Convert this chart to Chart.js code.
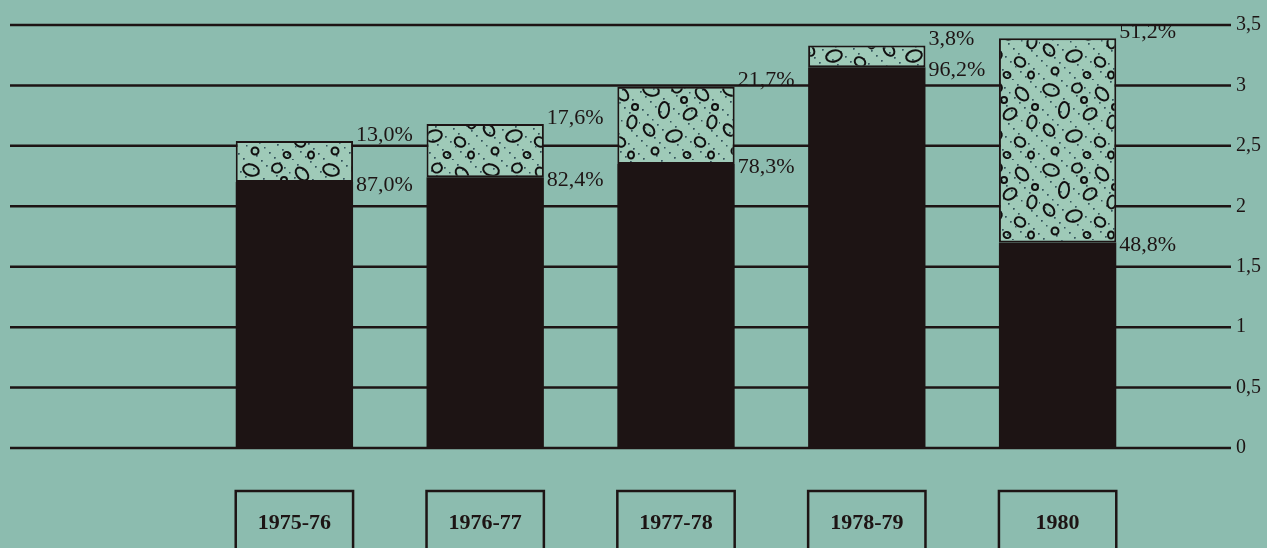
<!DOCTYPE html>
<html>
<head>
<meta charset="utf-8">
<script src="https://cdn.jsdelivr.net/npm/chart.js@4/dist/chart.umd.min.js"></script>
<style>
  body { margin: 0; background: #8cbcaf; }
  canvas { display: block; }
</style>
</head>
<body>
<canvas id="chart" width="1267" height="548"></canvas>
<script>
// data
const years = ['1975-76', '1976-77', '1977-78', '1978-79', '1980'];
const darkPart = [2.20, 2.24, 2.35, 3.15, 1.70];
const patternPart = [0.34, 0.44, 0.64, 0.18, 1.69];
const shareDark = [87.0, 82.4, 78.3, 96.2, 48.8];
const sharePattern = [13.0, 17.6, 21.7, 3.8, 51.2];
const yTicks = [0, 0.5, 1, 1.5, 2, 2.5, 3, 3.5];

const INK = '#1d1414';
const SERIF = "'Liberation Serif', 'DejaVu Serif', serif";

// pebble texture for the upper part of the bars
function makePebbles() {
    const c = document.createElement('canvas');
    c.width = 80; c.height = 80;
    const g = c.getContext('2d');
    g.fillStyle = '#9fcab8';
    g.fillRect(0, 0, 80, 80);
    g.fillStyle = '#35545c';
    for (let i = 0; i < 150; i++) {
        const x = (i * 37) % 80, y = (i * 53 + 11) % 80;
        g.fillRect(x, y, 1.5, 1.5);
    }
    const stones = [
        [11, 10, 8, 5.5, 0.3], [37, 8, 5, 4.5, -0.4], [62, 14, 7.5, 5, 0.8],
        [24, 30, 5, 8, 0.1], [50, 34, 7, 5, -0.6], [72, 42, 4.5, 6.5, 0.2],
        [9, 50, 6.5, 4.5, 0.9], [34, 56, 8, 5.5, -0.3], [60, 62, 5.5, 4.5, 0.5],
        [15, 71, 3.5, 3.5, 0], [44, 20, 3, 3, 0], [75, 27, 3, 3, 0],
        [47, 75, 3.5, 3, 0.4], [71, 75, 3, 3.5, 0]
    ];
    g.strokeStyle = '#121010';
    g.lineWidth = 2;
    stones.forEach(s => {
        g.beginPath();
        g.ellipse(s[0], s[1], s[2], s[3], s[4], 0, Math.PI * 2);
        g.stroke();
    });
    return g.createPattern(c, 'repeat');
}

function fmt(v) {
    return v.toFixed(1).replace('.', ',') + '%';
}

// long horizontal rules across the whole sheet
const rulesPlugin = {
    id: 'rules',
    beforeDatasetsDraw(chart) {
        const ctx = chart.ctx, y = chart.scales.y;
        ctx.save();
        ctx.strokeStyle = INK;
        ctx.lineWidth = 2.5;
        yTicks.forEach(v => {
            const py = y.getPixelForValue(v);
            ctx.beginPath();
            ctx.moveTo(10, py);
            ctx.lineTo(1231, py);
            ctx.stroke();
        });
        ctx.restore();
    }
};

// percentages beside the bars and boxed year labels below
const notesPlugin = {
    id: 'notes',
    afterDraw(chart) {
        const ctx = chart.ctx;
        const low = chart.getDatasetMeta(0).data;
        const high = chart.getDatasetMeta(1).data;
        ctx.save();
        ctx.fillStyle = INK;
        ctx.font = '22px ' + SERIF;
        ctx.textAlign = 'left';
        ctx.textBaseline = 'middle';
        high.forEach((bar, i) => {
            const right = bar.x + bar.width / 2;
            ctx.fillText(fmt(sharePattern[i]), right + 3, bar.y - 6);
            ctx.fillText(fmt(shareDark[i]), right + 3, low[i].y + 3);
        });

        ctx.strokeStyle = INK;
        ctx.lineWidth = 2.5;
        ctx.font = 'bold 22px ' + SERIF;
        ctx.textAlign = 'center';
        high.forEach((bar, i) => {
            ctx.strokeRect(bar.x - bar.width / 2, 491, bar.width, 70);
            ctx.fillText(years[i], bar.x, 523);
        });
        ctx.restore();
    }
};

Chart.defaults.font.family = SERIF;
Chart.defaults.color = INK;

new Chart(document.getElementById('chart'), {
    type: 'bar',
    data: {
        labels: years,
        datasets: [
            {
                data: darkPart,
                backgroundColor: INK,
                borderWidth: 0,
                barPercentage: 0.615,
                categoryPercentage: 1
            },
            {
                data: patternPart,
                backgroundColor: makePebbles(),
                borderColor: INK,
                borderWidth: 2,
                borderSkipped: false,
                barPercentage: 0.615,
                categoryPercentage: 1
            }
        ]
    },
    options: {
        responsive: false,
        animation: false,
        layout: { padding: { left: 199, right: 0, top: 25, bottom: 100 } },
        plugins: { legend: { display: false }, tooltip: { enabled: false } },
        scales: {
            x: { stacked: true, display: false },
            y: {
                stacked: true,
                position: 'right',
                min: 0,
                max: 3.5,
                afterFit(axis) {
                    axis.width = 114;
                    axis.paddingTop = 10;
                    axis.paddingBottom = 10;
                },
                grid: { display: false, drawTicks: false },
                border: { display: false },
                ticks: {
                    stepSize: 0.5,
                    padding: 83,
                    font: { size: 20 },
                    callback: v => String(v).replace('.', ',')
                }
            }
        }
    },
    plugins: [rulesPlugin, notesPlugin]
});
</script>
</body>
</html>
